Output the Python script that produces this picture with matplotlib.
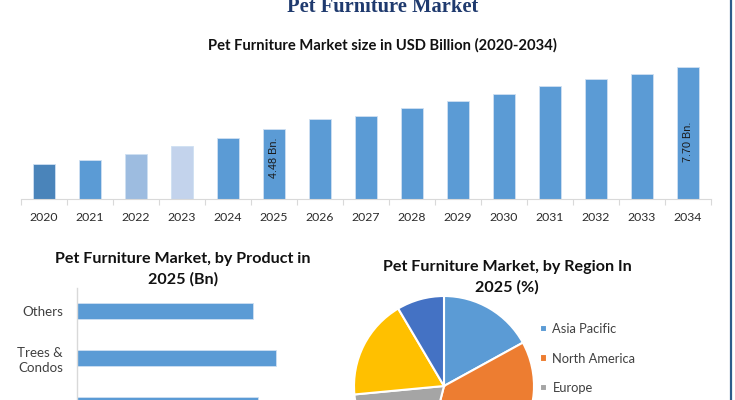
import matplotlib
matplotlib.use("Agg")
import matplotlib.pyplot as plt

# data
years = [str(y) for y in range(2020, 2035)]
market_size = [2.63, 2.84, 3.18, 3.58, 3.99, 4.48, 5.00, 5.17, 5.57, 5.95,
               6.32, 6.72, 7.10, 7.37, 7.70]
bar_colors = ["#4A84BA", "#5B9BD5", "#9DBCE0", "#C3D3EC"] + ["#5B9BD5"] * 11

products = ["Houses", "Trees &\nCondos", "Others"]
product_size = [1.45, 1.59, 1.41]

regions = ["Asia Pacific", "North America", "Europe",
           "Middle East and Africa", "South America"]
region_share = [17.0, 37.0, 19.5, 18.0, 8.5]
region_colors = ["#5B9BD5", "#ED7D31", "#A5A5A5", "#FFC000", "#4472C4"]

W, H = 735, 400
fig = plt.figure(figsize=(W / 100, H / 100), dpi=100)
plt.rcParams["font.family"] = ["Lato", "DejaVu Sans"]

def box(x0, y0, x1, y1):
    # pixel box (top-left origin) -> figure fraction
    return [x0 / W, 1 - y1 / H, (x1 - x0) / W, (y1 - y0) / H]

# --- titles ---
fig.text(383 / W, 1 - 12 / H, "Pet Furniture Market", ha="center", va="baseline",
         fontsize=14.8, fontweight="bold", color="#1F3A6E", family="Liberation Serif")
fig.text(382 / W, 1 - 45 / H, "Pet Furniture Market size in USD Billion (2020-2034)",
         ha="center", va="center", fontsize=10.6, fontweight="bold", color="#111111")

# --- top bar chart ---
ax = fig.add_axes(box(21, 60, 711, 199))
ax.bar(range(len(years)), market_size, width=0.46, color=bar_colors,
       edgecolor="#CFE0F2", linewidth=0.6)
ax.set_xlim(-0.5, len(years) - 0.5)
ax.set_ylim(0.81, 8.08)
ax.set_xticks(range(len(years)))
ax.set_xticklabels(years, fontsize=8.8, color="#2b2b2b")
ax.set_xticks([i - 0.5 for i in range(len(years) + 1)], minor=True)
ax.tick_params(axis="x", which="major", length=0, pad=9)
ax.tick_params(axis="x", which="minor", length=4, color="#D9D9D9", width=0.8)
ax.set_yticks([])
for s in ["top", "right", "left"]:
    ax.spines[s].set_visible(False)
ax.spines["bottom"].set_color("#D9D9D9")
ax.spines["bottom"].set_linewidth(0.8)

ax.text(5, market_size[5] - 1.5, "%.2f Bn." % market_size[5], rotation=90,
        ha="center", va="center", fontsize=7.8, family="Liberation Sans", color="#1a1a1a")
ax.text(14, market_size[14] - 3.9, "%.2f Bn." % market_size[14], rotation=90,
        ha="center", va="center", fontsize=7.8, family="Liberation Sans", color="#1a1a1a")

# --- product bars ---
fig.text(183 / W, 1 - 269 / H, "Pet Furniture Market, by Product in\n2025 (Bn)",
         ha="center", va="center", fontsize=11.6, fontweight="bold", color="#111111",
         linespacing=1.5)
bx = fig.add_axes(box(77, 287.5, 327, 428.5))
bx.barh(range(len(products)), product_size, height=0.34, color="#5B9BD5",
        edgecolor="#CFE0F2", linewidth=0.6)
bx.set_ylim(-0.5, len(products) - 0.5)
bx.set_xlim(0, 2.0)
bx.set_yticks(range(len(products)))
bx.set_yticklabels(products, fontsize=9.6, color="#404040", linespacing=1.35)
bx.tick_params(axis="y", length=0, pad=10)
bx.set_xticks([])
for s in ["top", "right", "bottom"]:
    bx.spines[s].set_visible(False)
bx.spines["left"].set_color("#D9D9D9")
bx.spines["left"].set_linewidth(1.0)

# --- region pie ---
fig.text(507 / W, 1 - 277 / H, "Pet Furniture Market, by Region In\n2025 (%)",
         ha="center", va="center", fontsize=11.6, fontweight="bold", color="#111111",
         linespacing=1.5)
px = fig.add_axes(box(354, 296, 534, 476))
wedges, _ = px.pie(region_share, colors=region_colors, startangle=90, counterclock=False,
                   wedgeprops=dict(edgecolor="white", linewidth=1.5))
px.set_xlim(-1, 1)
px.set_ylim(-1, 1)
px.set_aspect("equal")
fig.legend(wedges, regions, loc="upper left", bbox_to_anchor=(535 / W, 1 - 318 / H),
           frameon=False, fontsize=9.3, labelcolor="#404040", handlelength=0.5,
           handleheight=0.5, handletextpad=0.45, labelspacing=1.35, borderaxespad=0)

# right-hand frame line
fig.add_artist(plt.Line2D([730.5 / W, 730.5 / W], [0, 1], color="#2E5C8A", linewidth=1.6))

fig.savefig("out.png", dpi=100)
